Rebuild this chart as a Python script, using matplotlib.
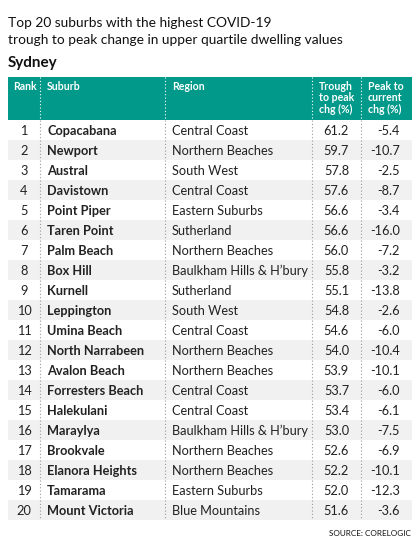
import matplotlib.pyplot as plt
from matplotlib.patches import Rectangle

# table data
rank = list(range(1, 21))
suburbs = ['Copacabana', 'Newport', 'Austral', 'Davistown', 'Point Piper',
           'Taren Point', 'Palm Beach', 'Box Hill', 'Kurnell', 'Leppington',
           'Umina Beach', 'North Narrabeen', 'Avalon Beach', 'Forresters Beach',
           'Halekulani', 'Maraylya', 'Brookvale', 'Elanora Heights', 'Tamarama',
           'Mount Victoria']
regions = ['Central Coast', 'Northern Beaches', 'South West', 'Central Coast',
           'Eastern Suburbs', 'Sutherland', 'Northern Beaches',
           'Baulkham Hills & H\u2019bury', 'Sutherland', 'South West',
           'Central Coast', 'Northern Beaches', 'Northern Beaches',
           'Central Coast', 'Central Coast', 'Baulkham Hills & H\u2019bury',
           'Northern Beaches', 'Northern Beaches', 'Eastern Suburbs',
           'Blue Mountains']
trough_to_peak = [61.2, 59.7, 57.8, 57.6, 56.6, 56.6, 56.0, 55.8, 55.1, 54.8,
                  54.6, 54.0, 53.9, 53.7, 53.4, 53.0, 52.6, 52.2, 52.0, 51.6]
peak_to_current = [-5.4, -10.7, -2.5, -8.7, -3.4, -16.0, -7.2, -3.2, -13.8, -2.6,
                   -6.0, -10.4, -10.1, -6.0, -6.1, -7.5, -6.9, -10.1, -12.3, -3.6]

headers = ['Rank', 'Suburb', 'Region', 'Trough\nto peak\nchg (%)',
           'Peak to\ncurrent\nchg (%)']

plt.rcParams['font.family'] = ['Lato', 'DejaVu Sans']

teal = '#00998a'
grey_row = '#f1f1f1'
text_col = '#222222'

fig = plt.figure(figsize=(4.2, 5.5), dpi=100)
ax = fig.add_axes([0, 0, 1, 1])
ax.set_xlim(0, 420)
ax.set_ylim(550, 0)
ax.axis('off')

# title
ax.text(8, 23, 'Top 20 suburbs with the highest COVID-19', fontsize=9.9,
        color='#111111', va='center')
ax.text(8, 40, 'trough to peak change in upper quartile dwelling values',
        fontsize=9.9, color='#111111', va='center')
ax.text(8, 63, 'Sydney', fontsize=11, fontweight='bold', color='#111111',
        va='center')

left, right = 8, 412
head_top, head_bot = 77, 120
row_h = 20
dividers = [40, 165, 312, 361]

# header
ax.add_patch(Rectangle((left, head_top), right - left, head_bot - head_top,
                       color=teal, lw=0))
hx = [13, 47, 172, 319, 368]
for x, h in zip(hx, headers):
    ax.text(x, 81, h, color='white', fontsize=7.6, fontweight='bold',
            va='top', ha='left', linespacing=1.05)

# rows
for i in range(len(suburbs)):
    y0 = head_bot + i * row_h
    yc = y0 + row_h / 2 + 1
    if i % 2 == 1:
        ax.add_patch(Rectangle((left, y0), right - left, row_h,
                               color=grey_row, lw=0))
    ax.text(24, yc, str(rank[i]), ha='center', va='center', fontsize=9.2,
            color=text_col)
    ax.text(47, yc, suburbs[i], ha='left', va='center', fontsize=9.2,
            fontweight='bold', color=text_col)
    ax.text(172, yc, regions[i], ha='left', va='center', fontsize=9.2,
            color=text_col)
    ax.text(349, yc, f'{trough_to_peak[i]:.1f}', ha='right', va='center',
            fontsize=9.2, color=text_col)
    ax.text(400, yc, f'{peak_to_current[i]:.1f}', ha='right', va='center',
            fontsize=9.2, color=text_col)

table_bot = head_bot + len(suburbs) * row_h

# dotted column dividers
for x in dividers:
    ax.plot([x, x], [head_top, head_bot], color='white', lw=0.8,
            linestyle=(0, (1, 2)))
    ax.plot([x, x], [head_bot, table_bot], color='#999999', lw=0.8,
            linestyle=(0, (1, 2)))

ax.text(411, 533, 'SOURCE: CORELOGIC', ha='right', va='center', fontsize=5.9,
        color='#111111')

fig.savefig('out.png', dpi=100)
